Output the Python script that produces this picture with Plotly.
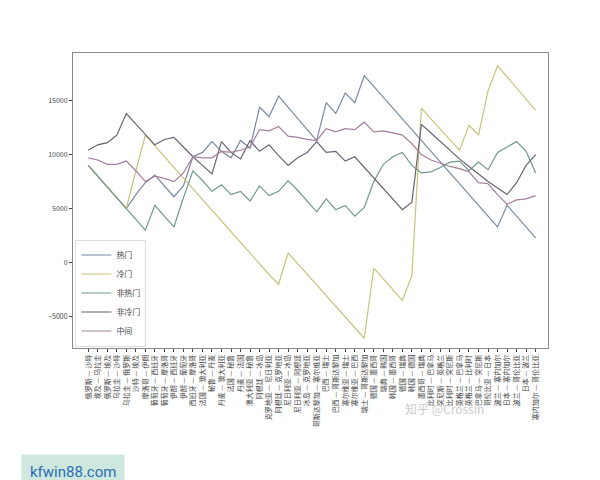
import plotly.graph_objects as go

matches = ["俄罗斯 — 沙特","埃及 — 乌拉圭","俄罗斯 — 埃及","乌拉圭 — 沙特","乌拉圭 — 俄罗斯","沙特 — 埃及",
"摩洛哥 — 伊朗","葡萄牙 — 西班牙","葡萄牙 — 摩洛哥","伊朗 — 西班牙","伊朗 — 葡萄牙","西班牙 — 摩洛哥",
"法国 — 澳大利亚","秘鲁 — 丹麦","丹麦 — 澳大利亚","法国 — 秘鲁","丹麦 — 法国","澳大利亚 — 秘鲁",
"阿根廷 — 冰岛","克罗地亚 — 尼日利亚","阿根廷 — 克罗地亚","尼日利亚 — 冰岛","尼日利亚 — 阿根廷","冰岛 — 克罗地亚",
"哥斯达黎加 — 塞尔维亚","巴西 — 瑞士","巴西 — 哥斯达黎加","塞尔维亚 — 瑞士","塞尔维亚 — 巴西","瑞士 — 哥斯达黎加",
"德国 — 墨西哥","瑞典 — 韩国","韩国 — 墨西哥","德国 — 瑞典","韩国 — 德国","墨西哥 — 瑞典",
"比利时 — 巴拿马","突尼斯 — 英格兰","比利时 — 突尼斯","英格兰 — 巴拿马","英格兰 — 比利时","巴拿马 — 突尼斯",
"哥伦比亚 — 日本","波兰 — 塞内加尔","日本 — 塞内加尔","波兰 — 哥伦比亚","日本 — 波兰","塞内加尔 — 哥伦比亚"]

hot = [9000,8000,7000,6000,5000,6300,7400,8100,7100,6100,7100,9800,10200,11200,10300,9700,11300,10600,
       14400,13500,15400,14400,13400,12300,11300,14800,13800,15700,14800,17300,16300,15300,14300,13300,
       12300,11300,10300,9300,8300,7300,6300,5300,4300,3300,5300,4300,3300,2300]
cold = [9000,8000,7000,6000,5000,8500,11800,10800,9800,8800,7900,6900,5900,4900,3900,2900,1900,900,
        -100,-1100,-2000,900,-100,-1100,-2100,-3100,-4100,-5100,-6100,-7000,-500,-1500,-2500,-3500,
        -1200,14300,13300,12300,11300,10400,12700,11800,15900,18200,17200,16200,15100,14100]
nonhot = [9000,8000,7000,6000,5000,4000,3000,5300,4300,3300,6000,8500,7600,6600,7200,6300,6600,5700,
          7100,6200,6600,7600,6700,5700,4700,5900,4900,5300,4300,5100,7500,9100,9800,10200,9000,8300,
          8400,8800,9300,9400,8500,9300,8600,10200,10700,11200,10300,8300]
noncold = [10400,10900,11100,11800,13800,12800,11800,10900,11400,11600,10700,9800,9000,8200,11200,10200,
           9600,11300,10300,10900,9900,9000,9700,10200,11200,10200,10300,9400,9800,8800,7800,6900,5900,
           4900,5600,12800,12000,11200,10400,9600,8900,8200,7500,6900,6300,7400,9000,10000]
middle = [9700,9500,9100,9100,9400,8500,7500,8000,7800,7500,8300,9800,9700,9700,10300,10200,10400,10700,
          12300,12200,12600,11700,11600,11400,11300,12400,12100,12400,12300,13000,12100,12200,12000,11800,
          11000,10000,9500,9200,8900,8700,8400,7400,7300,6300,5400,5800,5900,6200]

series = [("热门", hot, "#7b8aa3"), ("冷门", cold, "#c9c27c"), ("非热门", nonhot, "#6f9a8d"),
          ("非冷门", noncold, "#6b6275"), ("中间", middle, "#a3819b")]

fig = go.Figure()
for name, vals, col in series:
    fig.add_trace(go.Scatter(x=matches, y=vals, mode="lines", name=name,
                             line=dict(color=col, width=1.2)))

fig.update_layout(
    width=600, height=480, paper_bgcolor="white", plot_bgcolor="white",
    margin=dict(l=65, r=60, t=45, b=140),
    font=dict(family="Noto Sans CJK SC", size=7, color="#444"),
    legend=dict(x=0.005, y=0.005, xanchor="left", yanchor="bottom", bgcolor="white",
                bordercolor="#ddd", borderwidth=1, font=dict(size=8), tracegroupgap=0,
                itemwidth=30),
    xaxis=dict(tickangle=-90, showgrid=False, showline=True, linecolor="#888", mirror=True,
               ticks="outside", ticklen=3, tickfont=dict(size=7), range=[-1.6, 48.3],
               tickmode="array", tickvals=matches, ticktext=matches),
    yaxis=dict(range=[-7900, 19400], tickvals=[-5000, 0, 5000, 10000, 15000], tickformat="d",
               showgrid=False, showline=True, linecolor="#888", mirror=True, ticks="outside",
               ticklen=3, zeroline=False, tickfont=dict(size=7)),
    annotations=[
        dict(text="kfwin88.com", xref="paper", yref="paper", x=-0.11, y=-0.36, xanchor="left",
             yanchor="top", showarrow=False, font=dict(size=15, color="#2a6db0", family="Roboto"),
             bgcolor="#cfe8df", borderpad=8),
        dict(text="知乎 @Crossin", xref="paper", yref="paper", x=0.87, y=-0.24, showarrow=False,
             font=dict(size=12, color="#cccccc")),
    ])
fig.write_html("out.html")
